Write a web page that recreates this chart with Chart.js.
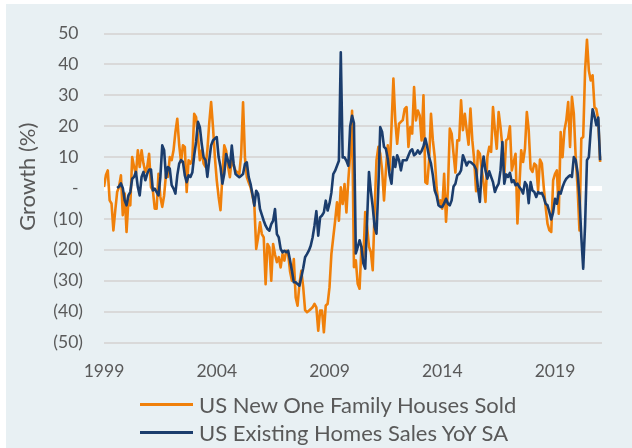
<!DOCTYPE html>
<html>
<head>
<meta charset="utf-8">
<style>
  body { margin: 0; padding: 0; background: #ffffff; }
  #frame { position: absolute; left: 6px; top: 4px; width: 626px; height: 444px; background: #e8f0f3; }
  #chart { position: absolute; left: 0; top: 0; }
  .legend { position: absolute; left: 140px; height: 28px; display: flex; align-items: center;
            font-family: Lato, sans-serif; font-size: 22px; color: #595959; white-space: nowrap; }
  .legend .line { display: inline-block; width: 53px; height: 3px; margin-right: 6px; }
</style>
<script src="https://cdn.jsdelivr.net/npm/chart.js@4.4.1/dist/chart.umd.min.js"></script>
</head>
<body>
<div id="frame"></div>
<canvas id="chart" width="632" height="448"></canvas>
<div class="legend" style="top:390px"><span class="line" style="background:#f0800a"></span>US New One Family Houses Sold</div>
<div class="legend" style="top:418px"><span class="line" style="background:#1b3d6d"></span>US Existing Homes Sales YoY SA</div>
<script>
// monthly YoY growth (%), first point = Jan 1999, one row per year
const newHomeSold = [
  0.3, 4.1, 5.7, -4, -5, -13.7, -7.2, -1.3, 0.3, 4.1, -8.8, -1.8,
  -14.2, -4, -5.6, 10, 6.8, 4.6, 12.2, 6.8, 12.2, 7.9, 5.2, 6.8,
  11.1, 0.3, -0.8, -6.7, -6.7, 4.6, -2.9, -6.1, -2.4, 4.6, 3.6, 10,
  9, 12.2, 18.1, 22.4, 14, 8.4, 13.8, 13.3, -1.3, 9, 7.9, 9.2,
  24, 22.9, 16.5, 9, 12.2, 7.9, 6.8, 12.2, 21, 27.8, 19.7, 10,
  2.5, -2.9, -7.2, 4, 13.8, 12, 7, 3.5, 9.9, 7.2, 5.6, 5.1,
  4.5, 11, 27.7, 9.9, 3.5, 1.8, 0.2, -2.5, -5.5, -19.7, -16, -11.1,
  -14.9, -16, -31.1, -18.1, -19.2, -30, -18.1, -21.5, -24, -22.4, -25.7, -21.4,
  -23.5, -20.3, -21.4, -27, -30, -23, -35.4, -38.1, -31.1, -26.8, -32.1, -39.5,
  -40.2, -39.7, -39.2, -38.6, -37.5, -38.6, -46.2, -39.7, -39.7, -46.7, -38, -37.5,
  -32.1, -21.4, -16, -10.6, -4.6, -10.6, 0.2, -5.2, 1.3, -7.9, 2.4, 11,
  25, -25.6, -23.4, -31, -32.6, -19, -23, -7.8, -12.6, -19, -20.7, -26.6,
  -7.2, 9, 13.3, 11.1, 5.7, -4, 5.7, 13.8, 5.7, 20, 35.4, 21.9,
  14.3, 20.8, 21.4, 22, 25.6, 26.2, 13.3, 19.7, 17.6, 32.7, 21.9, 25.1,
  23.5, 15.4, 30, 1.9, 1.4, 9, 24, 15.4, 10, 0, -5, -4,
  -6.7, 4.6, -10.9, -0.8, 19.2, 17.6, 11.1, 5, 15.4, 15.4, 28.4, 18.7,
  24, 18.7, 14, 25.7, 15.4, 9, -1, 12, 11.1, 6, 1.4, -4.5,
  10, 13.3, 11.7, 26.2, 18.7, 12.7, 24.6, 19.7, 13.3, 4, 15.4, 16,
  20, 5.7, 8.4, 11.1, -11.5, 0.3, 12.2, 8.4, 12.7, 24.6, 18.7, 6.3,
  5.2, 7.9, 7.3, -0.8, 9.2, 7.9, 0.3, -6.1, -11.5, -13.7, -14.2, 2.5,
  4.6, 5.7, -8.3, 18.1, 10, 18.7, 21.9, 27.8, 13.3, 29.5, 24.1, 10,
  0.3, -13.7, 16, 16.5, 38, 48, 38, 34.8, 36.5, 26.2, 25.5, 22,
  8.4
];

const existingHomeSales = [
  null, null, null, null, null, null, null, 0, 0.5, 1.5, 0, -4,
  -5.6, -2.4, -1.3, 3, 3.6, 5.2, 0.3, -2.4, 3.6, 5.2, 2.5, 4.6,
  6, 6, -0.8, -0.2, -1.3, -2.4, 3.6, 13.8, 12.2, 3.3, 6.8, 6.3,
  0.9, -0.2, -1.8, 4.1, 7.9, 9, 8.5, 4.1, 1.9, 4.1, 3.6, 5,
  10.6, 14.9, 21.4, 19.7, 14.3, 10, 9, 3.6, 9, 13.8, 15.4, 16,
  16.5, 10, 6.8, 1.4, 4.6, 11, 8.8, 6.7, 13.7, 7.8, 4.5, 4,
  3.5, 4, 4.5, 7.8, 8.3, 3.5, 1.3, -2, -5.7, -0.9, -1.9, -6.8,
  -8.7, -10.6, -12.2, -13.3, -13.8, -11.7, -10.6, -6.8, -14.9, -16, -19.7, -20.8,
  -20.3, -20.8, -20.3, -23.5, -26.8, -30.5, -30.5, -31.1, -31.6, -28.9, -26, -22.4,
  -21.4, -20.3, -18.7, -16, -12.2, -7.5, -15.4, -9.5, -8.9, -7.9, -4.1, -7.3,
  -5, -1.5, 4.5, 5.6, 7.2, 8.8, 43.9, 9.9, 9.9, 8.8, 7.2, 20,
  23.4, 21, -21.2, -19.1, -16.9, -19.1, -24.4, -26.1, -10.5, 5.2, -1, -6.1,
  -12.6, -14.8, 0.3, 19.7, 18.1, 13.3, 12.7, 9.5, 4.1, 1.4, 10, 6.8,
  10.6, 9, 5.7, 9, 9, 9, 10.5, 12, 12.5, 10.6, 11.1, 12.2,
  11.1, 12, 13.5, 16, 13.3, 10, 7.9, 4.1, -0.8, -2.5, -5.6, -6.1,
  -6.1, -5, -3.5, -5, -5.6, -4, 0.5, 1.4, 4.1, 4.6, 5.7, 10.6,
  9, 7.3, 8.5, 8.4, 7.9, 7.3, 6, 0, -4.5, 5.7, 10.2, 5.7,
  3, 5.4, 3.6, 1.9, -1.3, 0.3, 1.4, 5.7, 14.9, 1.4, 4.4, 3.6,
  4.9, 1.9, 2.5, 0.9, 1.4, 0.3, -0.5, -1.8, 1.9, 0.9, -4.9, 1.9,
  -0.8, -1.3, -2.9, -1.3, -1.8, -1.6, -3, -5.1, -5.6, -7.8, -10.2, -7.8,
  -3.5, -5.1, -1.3, -1.8, 0.3, 1.9, 3, 3.6, 4.1, 3.6, 10, 9,
  5, -2.9, -15.9, -26.1, -12, 9, 10, 18.7, 25.5, 23.2, 20.3, 22.8,
  9
];

const yearLabels = ['1999', '2004', '2009', '2014', '2019'];  // every 60 months
const seriesNames = ['US New One Family Houses Sold', 'US Existing Homes Sales YoY SA'];

const TEXT = '#595959';
const ORANGE = '#f0800a';
const NAVY = '#1b3d6d';

function toPoints(arr) {
  return arr.map(function (v, i) { return { x: i, y: v }; });
}

new Chart(document.getElementById('chart'), {
  type: 'line',
  data: {
    datasets: [{
      label: seriesNames[0],
      data: toPoints(newHomeSold),
      borderColor: ORANGE,
      borderWidth: 2.6,
      pointRadius: 0,
      borderJoinStyle: 'round',
      order: 2
    }, {
      label: seriesNames[1],
      data: toPoints(existingHomeSales),
      borderColor: NAVY,
      borderWidth: 2.6,
      pointRadius: 0,
      borderJoinStyle: 'round',
      order: 1
    }]
  },
  options: {
    responsive: false,
    animation: false,
    layout: { padding: { top: 33.5, right: 30, bottom: 65.5, left: 0 } },
    plugins: { legend: { display: false }, tooltip: { enabled: false } },
    scales: {
      x: {
        type: 'linear',
        min: 0,
        max: 265,
        grid: { display: false, drawTicks: false },
        border: { display: false },
        ticks: {
          stepSize: 60,
          autoSkip: false,
          maxRotation: 0,
          padding: 18,
          color: TEXT,
          font: { family: 'Lato', size: 17.5 },
          callback: function (v) { return v % 60 === 0 ? yearLabels[v / 60] : null; }
        },
        afterFit: function (axis) { axis.height = 40; }
      },
      y: {
        min: -50,
        max: 50,
        border: { display: false },
        grid: {
          drawTicks: false,
          color: function (c) { return c.tick.value === 0 ? '#ffffff' : '#d9d9d9'; },
          lineWidth: function (c) { return c.tick.value === 0 ? 5 : 2; }
        },
        ticks: {
          stepSize: 10,
          padding: 21,
          color: TEXT,
          font: { family: 'Lato', size: 17.5 },
          callback: function (v) {
            if (v === 0) return '- ';
            return v < 0 ? '(' + (-v) + ')' : v + ' ';
          }
        },
        title: {
          display: true,
          // leading spaces nudge the rotated title up, as in the original
          text: '    Growth (%)',
          color: TEXT,
          font: { family: 'Lato', size: 22 },
          padding: { top: 15, bottom: 0 }
        },
        afterFit: function (axis) { axis.width = 104; }
      }
    }
  }
});
</script>
</body>
</html>
